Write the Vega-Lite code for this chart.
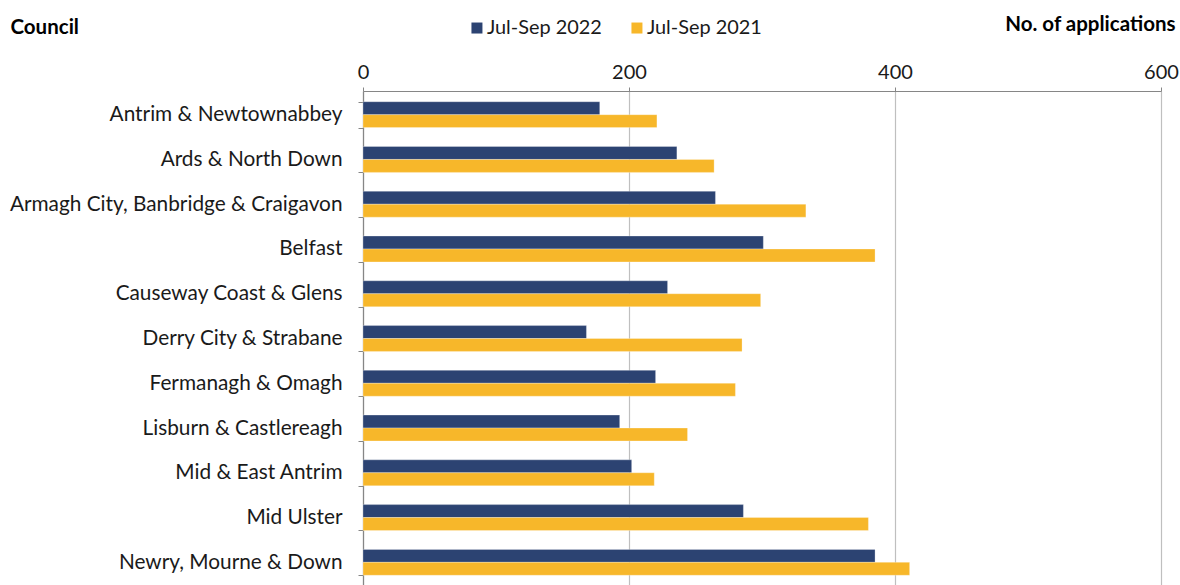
{
  "$schema": "https://vega.github.io/schema/vega-lite/v6.json",
  "autosize": "none",
  "padding": {"left": 363, "top": 91, "right": 19, "bottom": 0},
  "width": 798,
  "height": 495,
  "background": "white",
  "config": {"view": {"stroke": null}, "font": "Lato"},
  "data": {
    "values": [
      {"council": "Antrim & Newtownabbey", "period": "Jul-Sep 2022", "n": 178},
      {"council": "Antrim & Newtownabbey", "period": "Jul-Sep 2021", "n": 221},
      {"council": "Ards & North Down", "period": "Jul-Sep 2022", "n": 236},
      {"council": "Ards & North Down", "period": "Jul-Sep 2021", "n": 264},
      {"council": "Armagh City, Banbridge & Craigavon", "period": "Jul-Sep 2022", "n": 265},
      {"council": "Armagh City, Banbridge & Craigavon", "period": "Jul-Sep 2021", "n": 333},
      {"council": "Belfast", "period": "Jul-Sep 2022", "n": 301},
      {"council": "Belfast", "period": "Jul-Sep 2021", "n": 385},
      {"council": "Causeway Coast & Glens", "period": "Jul-Sep 2022", "n": 229},
      {"council": "Causeway Coast & Glens", "period": "Jul-Sep 2021", "n": 299},
      {"council": "Derry City & Strabane", "period": "Jul-Sep 2022", "n": 168},
      {"council": "Derry City & Strabane", "period": "Jul-Sep 2021", "n": 285},
      {"council": "Fermanagh & Omagh", "period": "Jul-Sep 2022", "n": 220},
      {"council": "Fermanagh & Omagh", "period": "Jul-Sep 2021", "n": 280},
      {"council": "Lisburn & Castlereagh", "period": "Jul-Sep 2022", "n": 193},
      {"council": "Lisburn & Castlereagh", "period": "Jul-Sep 2021", "n": 244},
      {"council": "Mid & East Antrim", "period": "Jul-Sep 2022", "n": 202},
      {"council": "Mid & East Antrim", "period": "Jul-Sep 2021", "n": 219},
      {"council": "Mid Ulster", "period": "Jul-Sep 2022", "n": 286},
      {"council": "Mid Ulster", "period": "Jul-Sep 2021", "n": 380},
      {"council": "Newry, Mourne & Down", "period": "Jul-Sep 2022", "n": 385},
      {"council": "Newry, Mourne & Down", "period": "Jul-Sep 2021", "n": 411}
    ]
  },
  "mark": {"type": "bar", "stroke": "#FFFFFF", "strokeOpacity": 0.35, "strokeWidth": 0.8},
  "encoding": {
    "y": {
      "field": "council",
      "type": "nominal",
      "sort": null,
      "scale": {"paddingInner": 0.422, "paddingOuter": 0.24},
      "axis": {
        "title": "Council",
        "titleAngle": 0,
        "titleX": -353,
        "titleY": -64,
        "titleAlign": "left",
        "titleBaseline": "middle",
        "titleFont": "Lato",
        "titleFontWeight": "bold",
        "titleFontSize": 20.5,
        "titleColor": "#000000",
        "labelFont": "Lato",
        "labelFontSize": 20.8,
        "labelColor": "#1a1a1a",
        "labelPadding": 16,
        "labelLimit": 400,
        "tickBand": "extent",
        "tickSize": 5,
        "tickColor": "#868686",
        "domainColor": "#868686",
        "domainWidth": 1.2
      }
    },
    "x": {
      "field": "n",
      "type": "quantitative",
      "scale": {"domain": [0, 600]},
      "axis": {
        "orient": "top",
        "values": [0, 200, 400, 600],
        "title": "No. of applications",
        "titleX": 812,
        "titleY": -67,
        "titleAlign": "right",
        "titleBaseline": "middle",
        "titleFont": "Lato",
        "titleFontWeight": "bold",
        "titleFontSize": 20.5,
        "titleColor": "#000000",
        "labelFont": "Lato",
        "labelFontSize": 20,
        "labelColor": "#1a1a1a",
        "labelPadding": 5,
        "labelFlush": false,
        "tickSize": 4,
        "tickColor": "#868686",
        "domainColor": "#868686",
        "domainWidth": 1.2,
        "grid": true,
        "gridColor": "#BFBFBF",
        "gridWidth": 1.2
      }
    },
    "color": {
      "field": "period",
      "type": "nominal",
      "scale": {"domain": ["Jul-Sep 2022", "Jul-Sep 2021"], "range": ["#2C4372", "#F7B72A"]},
      "legend": {
        "title": null,
        "orient": "none",
        "direction": "horizontal",
        "legendX": 104,
        "legendY": -73,
        "padding": 0,
        "symbolType": "square",
        "symbolSize": 121,
        "symbolStrokeWidth": 0,
        "symbolOpacity": 1,
        "labelOffset": 0,
        "columnPadding": 25,
        "labelFont": "Lato",
        "labelFontSize": 19.9,
        "labelColor": "#1a1a1a"
      }
    },
    "yOffset": {"field": "period", "type": "nominal", "sort": ["Jul-Sep 2022", "Jul-Sep 2021"]}
  }
}
